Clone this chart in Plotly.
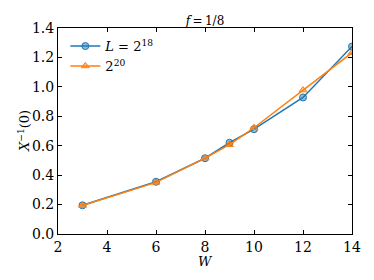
import plotly.graph_objects as go

W = [3, 6, 8, 9, 10, 12, 14]
x_L18 = [0.195, 0.355, 0.515, 0.62, 0.712, 0.928, 1.274]
x_L20 = [0.194, 0.351, 0.516, 0.607, 0.722, 0.978, 1.232]
x_ticks = [2, 4, 6, 8, 10, 12, 14]
y_ticks = [0.0, 0.2, 0.4, 0.6, 0.8, 1.0, 1.2, 1.4]

font = "DejaVu Serif"
fig = go.Figure()
fig.add_trace(go.Scatter(
    x=W, y=x_L18, mode="lines+markers", name="<i>L</i> = 2<sup>18</sup>",
    line=dict(color="#1f77b4", width=1.5),
    marker=dict(symbol="circle", size=7, color="rgba(31,119,180,0.5)",
                line=dict(color="#1f77b4", width=1))))
fig.add_trace(go.Scatter(
    x=W, y=x_L20, mode="lines+markers", name="2<sup>20</sup>",
    line=dict(color="#ff7f0e", width=1.5),
    marker=dict(symbol="triangle-up", size=7, color="rgba(255,127,14,0.5)",
                line=dict(color="#ff7f0e", width=1))))

axis_common = dict(showgrid=False, zeroline=False, ticks="inside", ticklen=4,
                   tickcolor="black", showline=True, linecolor="black", linewidth=1,
                   mirror="ticks", tickfont=dict(family=font, size=14, color="black"))
fig.update_layout(
    width=374, height=280,
    margin=dict(l=50, r=30, t=20, b=54),
    paper_bgcolor="white", plot_bgcolor="white",
    font=dict(family=font, color="black", size=13),
    title=dict(text="<i>f</i>\u2009=\u20091/8", x=0.5, xanchor="center", y=0.968, yanchor="top",
               xref="paper", yref="container", font=dict(family=font, size=12)),
    xaxis=dict(range=[2, 14], tickvals=x_ticks, ticktext=[str(v) for v in x_ticks],
               **axis_common),
    yaxis=dict(range=[0, 1.4], tickvals=y_ticks, ticktext=[f"{v:.1f}" for v in y_ticks],
               **axis_common),
    legend=dict(x=0.025, y=0.985, xanchor="left", yanchor="top", bgcolor="rgba(0,0,0,0)",
                font=dict(family=font, size=13), tracegroupgap=0),
    showlegend=True,
    annotations=[
        dict(text="<i>X</i><sup>−1</sup>(0)", xref="paper", yref="paper",
             x=0, y=0.5, xanchor="center", yanchor="middle", xshift=-34,
             textangle=-90, showarrow=False, font=dict(family=font, size=13)),
        dict(text="<i>W</i>", xref="paper", yref="paper",
             x=0.5, y=0, xanchor="center", yanchor="middle", yshift=-27,
             showarrow=False, font=dict(family=font, size=13)),
    ],
)
fig.write_html("out.html")
